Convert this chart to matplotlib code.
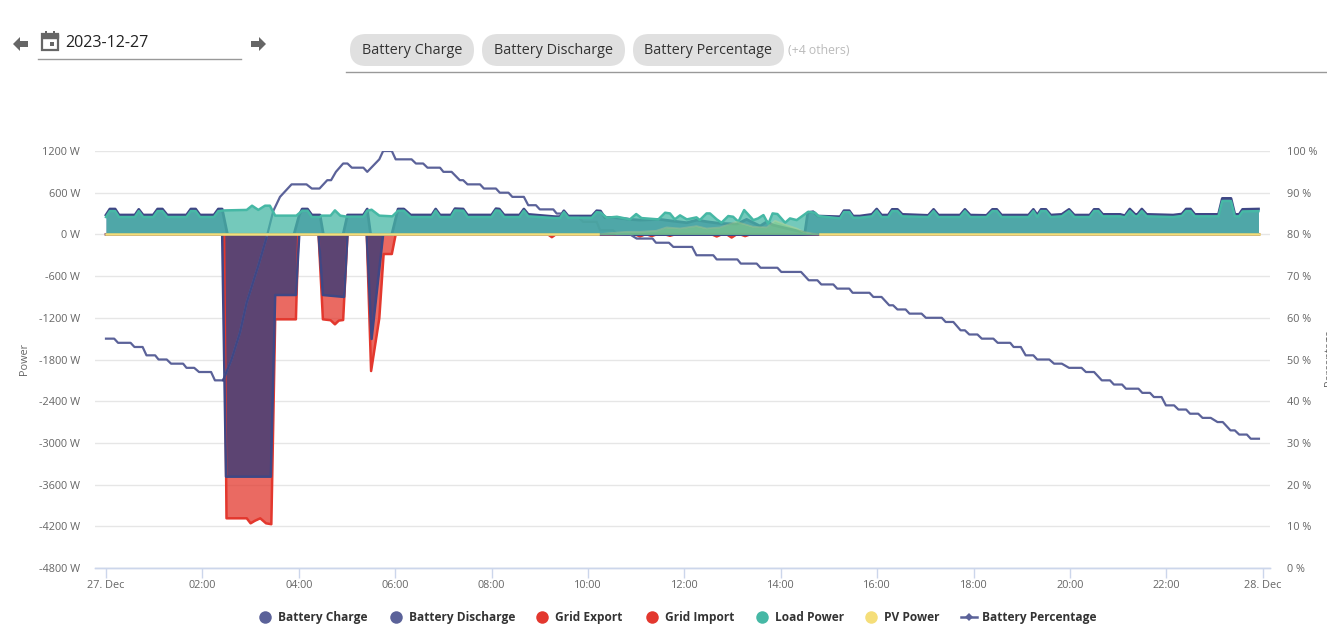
import matplotlib
matplotlib.use("Agg")
import matplotlib.pyplot as plt
from matplotlib.patches import FancyBboxPatch, Rectangle, Polygon

plt.rcParams["font.family"] = ["Open Sans", "DejaVu Sans"]

# all times are hours since midnight
pct_hours = [0.00,0.17,0.25,0.51,0.59,0.76,0.84,1.02,1.09,1.26,1.35,1.60,1.67,1.83,1.93,2.18,2.26,2.43,2.61,2.78,2.92,3.16,3.33,3.47,3.61,3.85,
             4.16,4.27,4.43,4.59,4.67,4.77,4.92,5.01,5.10,5.34,5.42,5.67,5.75,5.93,6.01,6.34,6.43,6.58,6.67,6.93,7.00,7.17,7.34,7.41,7.50,7.76,
             7.84,8.09,8.17,8.35,8.43,8.67,8.76,8.92,9.00,9.28,9.35,9.52,9.61,9.81,9.90,10.18,10.25,10.52,10.60,10.87,11.01,11.34,11.41,11.68,
             11.77,12.16,12.25,12.60,12.67,13.10,13.17,13.50,13.58,13.93,14.01,14.42,14.58,14.76,14.84,15.09,15.17,15.42,15.49,15.84,15.92,16.09,
             16.25,16.33,16.42,16.59,16.67,16.92,17.01,17.34,17.42,17.58,17.73,17.82,17.91,18.08,18.17,18.41,18.50,18.76,18.83,18.98,19.08,19.24,
             19.32,19.57,19.67,19.83,19.98,20.24,20.33,20.50,20.66,20.83,20.91,21.08,21.16,21.42,21.50,21.66,21.74,21.90,21.99,22.16,22.25,22.41,
             22.49,22.66,22.75,22.92,23.06,23.17,23.33,23.42,23.51,23.67,23.75,23.92]
pct_values = [55,55,54,54,53,53,51,51,50,50,49,49,48,48,47,47,45,45,50.2,56.5,63.7,72.5,79.2,85.6,89,92,
              92,91,91,93,93,95,97,97,96,96,95,98,100,100,98,98,97,97,96,96,95,95,93,93,92,92,
              91,91,90,90,89,89,87,87,86,86,85,85,84,84,83,83,81,81,80,80,79,79,78,78,
              77,77,75,75,74,74,73,73,72,72,71,71,69,69,68,68,67,67,66,66,65,65,
              63,63,62,62,61,61,60,60,59,59,57,57,56,56,55,55,54,54,53,53,51,51,
              50,50,49,49,48,48,47,47,45,45,44,44,43,43,42,42,41,41,39,39,38,38,
              37,37,36,36,35,35,33,33,32,32,31,31]

charge_hours = [0,0.08,0.19,0.27,0.60,0.68,0.77,0.98,1.07,1.17,1.27,1.67,1.76,1.86,1.95,2.24,2.33,2.41,2.52,3.90,4.01,4.07,4.18,4.27,4.44,4.51,
                4.92,5.01,5.34,5.42,5.49,5.93,6.06,6.18,6.32,6.76,6.84,6.93,7.16,7.24,7.41,7.50,8.00,8.09,8.16,8.26,8.58,8.67,8.76,9.32,9.42,9.50,
                9.59,10.08,10.18,10.26,10.35,10.52,10.87,11.08,11.49,11.70,12.05,12.26,12.47,12.74,13.09,13.29,13.57,13.71,13.84,14.12,14.33,14.50,
                14.56,14.67,14.77,15.23,15.31,15.42,15.50,15.64,15.89,15.99,16.09,16.23,16.31,16.42,16.52,17.06,17.17,17.27,17.72,17.82,17.93,18.27,
                18.39,18.48,18.58,19.14,19.24,19.32,19.40,19.50,19.60,19.83,19.98,20.09,20.41,20.50,20.59,20.68,21.04,21.14,21.24,21.35,21.40,21.49,
                21.59,22.14,22.32,22.41,22.50,22.59,23.08,23.16,23.34,23.42,23.51,23.58,23.91]
charge_values = [279,365,365,279,279,360,279,279,365,365,279,279,365,365,279,279,365,365,0,0,279,365,365,279,279,0,
                 0,279,279,365,0,0,365,365,279,279,365,279,279,370,365,279,279,370,365,279,279,365,288,255,255,340,
                 264,264,340,336,240,245,216,206,216,197,168,206,182,158,149,216,120,182,134,86,53,24,
                 312,326,264,254,341,341,264,264,288,365,278,278,360,360,288,274,360,278,278,360,278,274,
                 360,360,278,278,360,278,360,360,278,288,360,278,278,360,360,288,288,269,365,288,288,365,
                 288,278,293,365,365,288,288,518,518,288,288,360,365]

load_hours = [0,0.08,0.19,0.27,0.60,0.68,0.77,0.98,1.07,1.17,1.27,1.67,1.76,1.86,1.95,2.24,2.33,2.45,2.92,3.03,3.16,3.30,3.40,3.51,3.95,4.07,
              4.18,4.27,4.44,4.47,4.66,4.75,4.86,5.00,5.34,5.42,5.51,5.67,5.94,6.06,6.18,6.32,6.76,6.84,6.93,7.16,7.24,7.41,7.50,8.00,8.09,8.16,
              8.26,8.58,8.67,8.76,9.32,9.42,9.50,9.59,10.08,10.18,10.26,10.39,10.60,10.87,11.00,11.11,11.46,11.60,11.70,11.80,11.91,12.05,12.25,
              12.32,12.46,12.53,12.67,12.77,12.91,13.01,13.12,13.24,13.43,13.53,13.64,13.74,13.83,13.93,14.09,14.19,14.33,14.57,14.71,14.78,15.23,
              15.31,15.42,15.50,15.64,15.89,15.99,16.09,16.23,16.31,16.42,16.52,17.06,17.17,17.27,17.72,17.82,17.93,18.27,18.39,18.48,18.58,19.14,
              19.24,19.32,19.40,19.50,19.60,19.83,19.98,20.09,20.41,20.50,20.59,20.68,21.04,21.14,21.24,21.35,21.40,21.49,21.59,22.14,22.32,22.41,
              22.50,22.59,23.08,23.16,23.34,23.42,23.51,23.58,23.91]
load_values = [250,335,335,250,250,335,250,250,335,335,250,250,335,335,250,250,335,345,352,413,352,413,413,270,270,340,
               340,250,250,270,270,346,270,255,255,340,355,270,260,340,340,250,250,340,250,250,345,340,250,250,345,340,
               250,250,340,260,235,235,320,240,240,320,315,240,254,216,293,235,216,312,302,216,274,216,245,
               206,302,302,216,168,264,254,182,350,206,230,278,149,302,293,168,230,206,326,312,264,230,
               320,320,240,240,260,340,250,250,335,335,260,250,335,250,250,335,250,250,335,335,250,250,
               335,250,335,335,250,260,335,250,250,335,335,260,260,245,335,260,260,335,260,250,265,335,
               335,260,260,480,480,260,260,330,335]

pv_hours = [0,10.20,10.39,10.80,11.08,11.42,11.63,11.91,12.25,12.46,12.74,13.08,13.43,13.71,13.88,14.12,14.33,14.47,14.64,14.81,23.92]
pv_values = [0,0,14,38,38,53,101,86,120,86,101,182,110,101,197,134,86,38,14,0,0]

discharge_hours = [0,2.41,2.49,3.42,3.51,3.94,4.01,4.41,4.50,4.94,5.01,5.41,5.51,5.75,10.50,10.80,14.40,14.80,23.92]
discharge_values = [0,0,-3486,-3486,-872,-872,0,0,-872,-900,0,0,-1505,0,0,-5,-5,0,0]

import_hours = [0,2.45,2.50,2.92,3.00,3.09,3.20,3.32,3.43,3.51,3.94,3.99,4.41,4.50,4.66,4.75,4.83,4.92,5.01,5.41,5.50,5.67,5.76,5.93,6.01,
                9.17,9.25,9.33,10.98,11.08,11.18,11.22,11.32,11.42,11.60,11.70,11.80,12.57,12.67,12.77,12.88,12.98,13.08,13.16,13.26,13.36,23.92]
import_values = [0,0,-4085,-4085,-4157,-4120,-4085,-4157,-4170,-1222,-1222,0,0,-1222,-1235,-1294,-1240,-1232,0,0,-1966,-1207,-282,-282,0,
                 0,-40,0,0,-30,0,0,-25,0,0,-20,0,0,-30,0,0,-45,0,0,-25,0,0]

export_hours = [0,23.92]
export_values = [0,0]

left_ticks = [-4800,-4200,-3600,-3000,-2400,-1800,-1200,-600,0,600,1200]
right_ticks = [0,10,20,30,40,50,60,70,80,90,100]
x_ticks = [0,2,4,6,8,10,12,14,16,18,20,22,24]
x_labels = ["27. Dec","02:00","04:00","06:00","08:00","10:00","12:00","14:00","16:00","18:00","20:00","22:00","28. Dec"]
legend_names = ["Battery Charge","Battery Discharge","Grid Export","Grid Import","Load Power","PV Power"]

W, H = 1327, 632
BLUE = "#5b6299"
LINE_BLUE = "#3f4785"
RED = "#e3382e"
TEAL = "#46b8a5"
YELLOW = "#f5de79"

fig = plt.figure(figsize=(W/100, H/100), dpi=100)
ax = fig.add_axes([95/W, (H-568)/H, 1175/W, 417/H])
ax2 = ax.twinx()

ax.set_xlim((95-106)/48.2, (1270-106)/48.2)
ax.set_ylim(-4800, 1200)
ax2.set_ylim(0, 100)

ax.set_yticks(left_ticks)
ax.set_yticklabels([f"{v} W" for v in left_ticks])
ax2.set_yticks(right_ticks)
ax2.set_yticklabels([f"{v} %" for v in right_ticks])
ax.set_xticks(x_ticks)
ax.set_xticklabels(x_labels)
ax.grid(axis="y", color="#e6e6e6", lw=1)
ax.set_axisbelow(True)
ax.tick_params(axis="y", length=0, labelsize=7.8, labelcolor="#666666", pad=10.7)
ax2.tick_params(axis="y", length=0, labelsize=7.8, labelcolor="#666666", pad=12)
ax.tick_params(axis="x", length=7, width=1, color="#ccd6eb", labelsize=7.8, labelcolor="#666666", pad=1.5)
for a in (ax, ax2):
    for s in ("top", "left", "right"):
        a.spines[s].set_visible(False)
    a.spines["bottom"].set_color("#ccd6eb")
    a.spines["bottom"].set_linewidth(1)

# fills, same stacking order as the page
ax.fill_between(charge_hours, charge_values, 0, color="#6a78b1", lw=0, zorder=2)
ax.fill_between(import_hours, import_values, 0, color=RED, alpha=0.75, lw=0, zorder=3)
ax.fill_between(discharge_hours, discharge_values, 0, color="#5c4472", lw=0, zorder=4)
ax.plot(export_hours, export_values, color=RED, lw=1.5, zorder=4.4)
ax.plot(import_hours, import_values, color=RED, lw=1.8, zorder=4.5)
ax.plot(discharge_hours, discharge_values, color=LINE_BLUE, lw=1.8, zorder=5)
ax.plot(charge_hours, charge_values, color=LINE_BLUE, lw=2, zorder=5)
ax.plot(pct_hours, pct_values, color=BLUE, lw=1.6, transform=ax2.transData, zorder=6)
# the rising stretch shows darker where it crosses the discharge block
ax.plot(pct_hours[17:23], pct_values[17:23], color=LINE_BLUE, lw=1.6, transform=ax2.transData, zorder=6)
ax.fill_between(load_hours, load_values, 0, color=TEAL, alpha=0.75, lw=0, zorder=7)
ax.fill_between(pv_hours, pv_values, 0, color="#8fd080", alpha=0.5, lw=0, zorder=8)
ax.plot(load_hours, load_values, color=TEAL, lw=1.8, zorder=9)
# PV line is only bright while it sits on the zero line
ax.plot(pv_hours[:2], pv_values[:2], color=YELLOW, lw=1.8, zorder=10)
ax.plot(pv_hours[-2:], pv_values[-2:], color=YELLOW, lw=1.8, zorder=10)
ax.plot(pv_hours[1:-1], pv_values[1:-1], color=YELLOW, lw=1.2, alpha=0.25, zorder=10)

# overlay in screen pixels for the page controls and the legend
ui = fig.add_axes([0, 0, 1, 1], zorder=20)
ui.set_xlim(0, W)
ui.set_ylim(H, 0)
ui.axis("off")

ui.text(24, 359, "Power", rotation=90, fontsize=7.8, color="#666666", ha="center", va="center")
ui.text(1329, 358, "Percentage", rotation=90, fontsize=7.8, color="#666666", ha="center", va="center", clip_on=True)

grey = "#666666"
ui.add_patch(Polygon([[13,44],[20,37],[20,41],[28,41],[28,47],[20,47],[20,51]], color=grey, lw=0))
ui.add_patch(Polygon([[266,44],[259,37],[259,41],[251,41],[251,47],[259,47],[259,51]], color=grey, lw=0))
ui.add_patch(Rectangle((42, 34), 16, 16, fc="none", ec=grey, lw=1.6))
ui.add_patch(Rectangle((42, 34), 16, 4, fc=grey, ec=grey, lw=1))
ui.add_patch(Rectangle((45, 31), 2, 3, fc=grey, lw=0))
ui.add_patch(Rectangle((53, 31), 2, 3, fc=grey, lw=0))
ui.add_patch(Rectangle((50, 42), 4, 4, fc=grey, lw=0))
ui.text(65.5, 43, "2023-12-27", fontsize=11.6, color="#222222", va="center")
ui.plot([38, 241], [58.5, 58.5], color="#999999", lw=1)

for x0, x1, label in [(350, 474, "Battery Charge"), (482, 625, "Battery Discharge"), (633, 784, "Battery Percentage")]:
    ui.add_patch(FancyBboxPatch((x0+16, 50), x1-x0-32, 0, boxstyle="round,pad=16,rounding_size=16", fc="#e0e0e0", ec="none"))
    ui.text((x0+x1)/2, 50, label, fontsize=10.4, color="#333333", ha="center", va="center")
ui.text(788, 50, "(+4 others)", fontsize=8.8, color="#bbbbbb", va="center")
ui.plot([346, W], [71.5, 71.5], color="#999999", lw=1)

colors = [BLUE, BLUE, RED, RED, TEAL, YELLOW]
dot_x = [265, 396, 542, 652, 762, 871]
for x, c, name in zip(dot_x, colors, legend_names):
    ui.plot([x], [617], "o", ms=9, color=c, mew=0)
    ui.text(x+13, 621, name, fontsize=8.6, fontweight="bold", color="#333333", va="baseline")
ui.plot([961, 977], [617, 617], color=BLUE, lw=1.8)
ui.plot([969], [617], "D", ms=4, color=BLUE, mew=0)
ui.text(982, 621, "Battery Percentage", fontsize=8.6, fontweight="bold", color="#333333", va="baseline")

fig.savefig("out.png", dpi=100)
